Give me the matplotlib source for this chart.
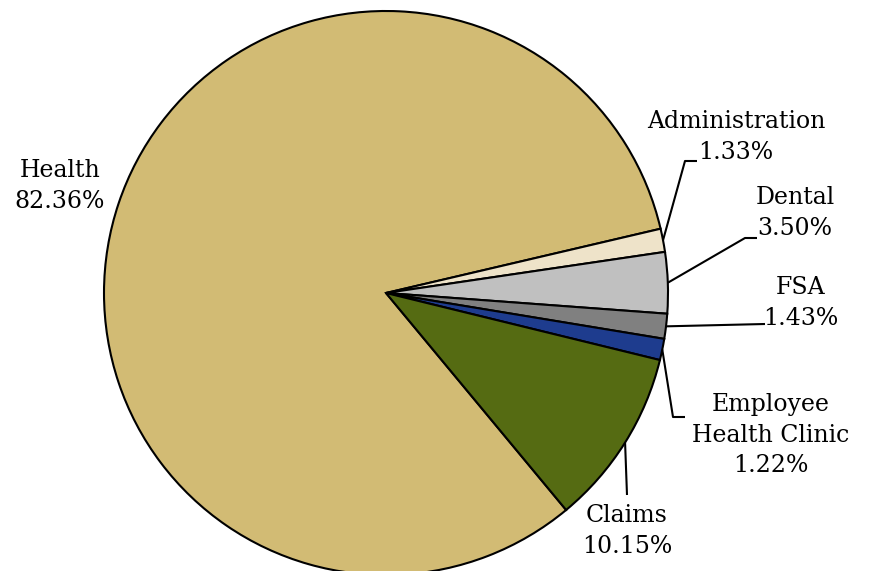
import matplotlib.pyplot as plt
import numpy as np

labels = ["Health", "Administration", "Dental", "FSA", "Employee\nHealth Clinic", "Claims"]
shares = [82.36, 1.33, 3.50, 1.43, 1.22, 10.15]
colors = ["#D2BB74", "#EEE3C9", "#C0C0C0", "#808080", "#1E3C8E", "#556B12"]

W, H = 871, 571
CENTER = (386, H - 293)
RADIUS = 282

# label text centre and leader elbow (pixel coords, y from top); None = no leader
LABEL_POS = [(60, 186), (736, 137), (795, 213), (801, 303), (771, 435), (627, 531)]
ELBOWS = [
    None,
    [(685, 161), (697, 161)],
    [(745, 238), (757, 238)],
    [(765, 324)],
    [(673, 417), (685, 417)],
    [(627, 495)],
]

plt.rcParams["font.family"] = ["DejaVu Serif"]

fig = plt.figure(figsize=(W / 100, H / 100), dpi=100)
ax = fig.add_axes([0, 0, 1, 1])

wedges, _ = ax.pie(
    shares, colors=colors, startangle=-50.3, counterclock=False,
    center=CENTER, radius=RADIUS,
    wedgeprops={"edgecolor": "black", "linewidth": 1.5},
)
ax.set_aspect("auto")
ax.set_xlim(0, W)
ax.set_ylim(0, H)
ax.set_axis_off()

for w, lab, val, pos, elbow in zip(wedges, labels, shares, LABEL_POS, ELBOWS):
    ax.text(pos[0], H - pos[1], f"{lab}\n{val:.2f}%", ha="center", va="center",
            fontsize=17, linespacing=1.42)
    if elbow is None:
        continue
    mid = np.deg2rad((w.theta1 + w.theta2) / 2)
    start = (CENTER[0] + RADIUS * np.cos(mid), CENTER[1] + RADIUS * np.sin(mid))
    xs = [start[0]] + [p[0] for p in elbow]
    ys = [start[1]] + [H - p[1] for p in elbow]
    ax.plot(xs, ys, color="black", lw=1.5, solid_capstyle="butt")

fig.savefig("out.png", dpi=100)
